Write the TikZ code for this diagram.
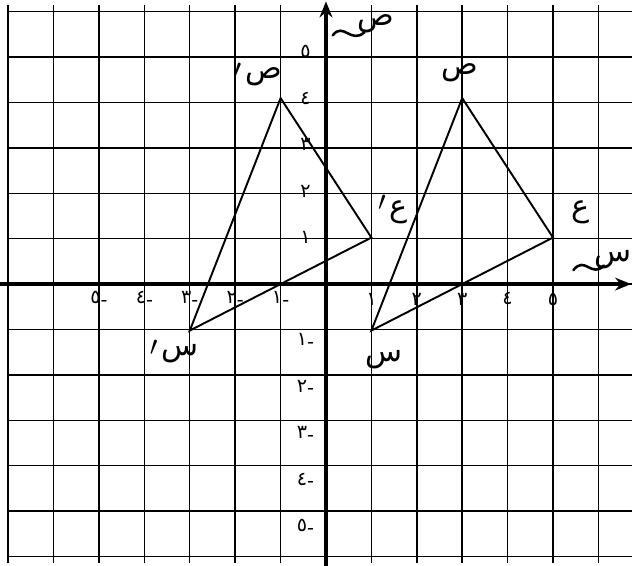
\documentclass[tikz,border=0pt]{standalone}
\usepackage{fontspec}
\newfontfamily\arabicfont[Script=Arabic]{DejaVu Sans}
\TeXXeTstate=1
\usetikzlibrary{arrows.meta}

\tikzset{
  gridline/.style={black, line width=0.9pt},
  axisline/.style={black, line width=2pt, -{Stealth[length=10pt,width=8pt]}},
  triline/.style={black, line width=1.2pt},
  swash/.style={black, line width=1.6pt, line cap=round},
  vertexlabel/.style={font=\arabicfont\fontsize{19}{22}\selectfont, inner sep=1pt},
  primemark/.style={font=\fontsize{19}{22}\selectfont, inner sep=0pt, anchor=north east},
  ticklabel/.style={font=\arabicfont\fontsize{12}{14}\selectfont, inner sep=0.5pt},
}

\begin{document}
\begin{tikzpicture}[x=1cm, y=1.024cm]
  \useasboundingbox (-7.18,-6.06) rectangle (6.74,6.11);

  % squared paper
  \draw[gridline] (-7,-6) grid (6.74,6);

  % axes
  \draw[axisline] (-7.18,0) -- (6.72,0);
  \draw[axisline] (0,-6.06) -- (0,6.08);

  % axis names
  \node[vertexlabel] (xname) at (6.32,0.52) {\beginR س\endR};
  \draw[swash] (5.45,0.3) .. controls (5.7,0.62) and (5.85,0.12) .. (6.12,0.4);
  \node[vertexlabel] (yname) at (1.1,5.6) {\beginR ص\endR};
  \draw[swash] (0.15,5.35) .. controls (0.38,5.65) and (0.55,5.15) .. (0.85,5.42);

  % numbers on the x axis
  \foreach \n/\d in {1/١,2/٢,3/٣,4/٤,5/٥}{
    \node[ticklabel] (xp\n) at (\n,-0.32) {\d};
    \node[ticklabel] (xm\n) at (-\n,-0.32) {\d\hbox{\raisebox{-1.5pt}{-}}};
  }
  % numbers on the y axis
  \foreach \n/\d in {1/١,2/٢,3/٣,4/٤,5/٥}{
    \node[ticklabel] (yp\n) at (-0.45,\n) {\d};
    \node[ticklabel] (ym\n) at (-0.45,-\n-0.22) {\d\hbox{\raisebox{-1.5pt}{-}}};
  }

  % triangle sin sad ain
  \coordinate (siin) at (1,-1);
  \coordinate (saad) at (3,4);
  \coordinate (ain)  at (5,1);
  \draw[triline] (siin) -- (saad) -- (ain) -- cycle;

  % its image after the shift
  \coordinate (siinp) at (-3,-1);
  \coordinate (saadp) at (-1,4);
  \coordinate (ainp)  at (1,1);
  \draw[triline] (siinp) -- (saadp) -- (ainp) -- cycle;

  % vertex names
  \node[vertexlabel] (siinlab)  at (1.27,-1.62) {\beginR س\endR};
  \node[vertexlabel] (saadlab)  at (2.95,4.55)  {\beginR ص\endR};
  \node[vertexlabel] (ainlab)   at (5.6,1.55)   {\beginR ع\endR};
  \node[vertexlabel] (siinplab) at (-3.22,-1.5) {\beginR س\endR};
  \node[vertexlabel] (saadplab) at (-1.38,4.45) {\beginR ص\endR};
  \node[vertexlabel] (ainplab)  at (1.6,1.55)   {\beginR ع\endR};
  % the primes stand on the left of the letters
  \node[primemark] (siinpmark) at ([xshift=-1pt,yshift=2pt]siinplab.north west) {$\prime$};
  \node[primemark] (saadpmark) at ([xshift=-1pt,yshift=2pt]saadplab.north west) {$\prime$};
  \node[primemark] (ainpmark)  at ([xshift=-1pt,yshift=2pt]ainplab.north west)  {$\prime$};
\end{tikzpicture}
\end{document}
